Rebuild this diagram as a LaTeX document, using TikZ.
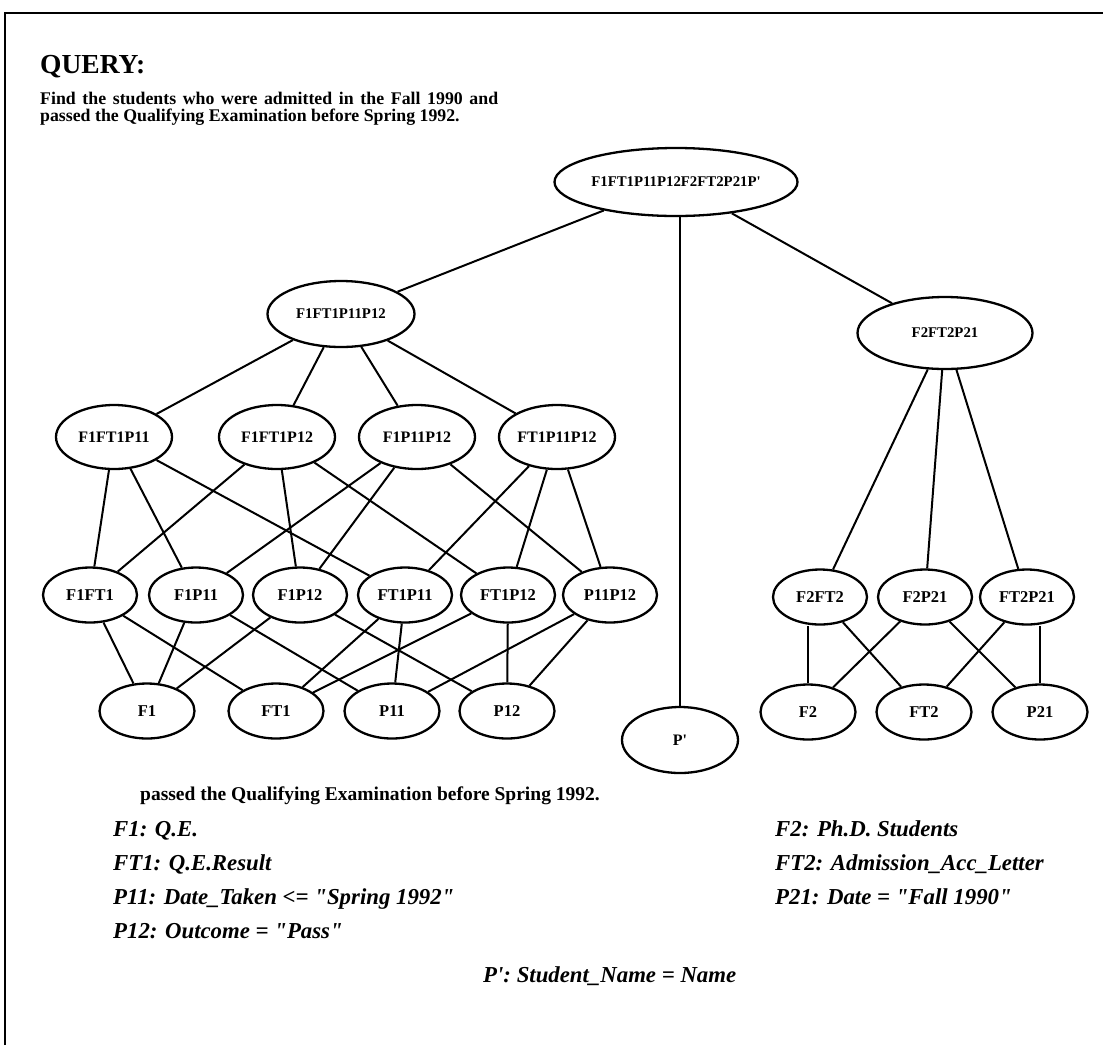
\documentclass[tikz,border=0pt]{standalone}
\usepackage{fontspec}
% plain family without TeX input ligatures, so " and ' print straight
\newfontfamily\serif{Liberation Serif}
\usetikzlibrary{shapes.geometric}
\newcommand{\fs}[1]{\fontsize{#1}{#1}\selectfont}
\begin{document}
\begin{tikzpicture}[x=1pt,y=-1pt,
  lat/.style={ellipse, draw, line width=2.3pt, inner sep=0pt},
  topn/.style={lat, font=\serif\bfseries\fs{14.8}},
  midn/.style={lat, minimum width=116pt, minimum height=64pt, font=\serif\bfseries\fs{16}},
  pairn/.style={lat, minimum width=94pt, minimum height=55pt, font=\serif\bfseries\fs{16.5}},
  leafn/.style={lat, minimum width=95pt, minimum height=55pt, font=\serif\bfseries\fs{16.5}},
  link/.style={line width=2pt},
  body/.style={anchor=base west, inner sep=0pt, font=\serif\bfseries\fs{17.8}},
  legend/.style={anchor=base west, inner sep=0pt, font=\serif\bfseries\itshape\fs{22.8}}]
\useasboundingbox (0,0) rectangle (1103,1045);
% frame
\draw[line width=2.8pt] (5,1045) -- (5,13) -- (1103,13);

% query text
\node[body, font=\serif\bfseries\fs{27.5}] (qh) at (40,73) {QUERY:};
\node[body] (q1) at (40,104) {\makebox[458pt][s]{Find the students who were admitted in the Fall 1990 and}};
\node[body] (q2) at (40,121) {passed the Qualifying Examination before Spring 1992.};

% lattice nodes
\node[topn, minimum width=243pt, minimum height=68pt] (root) at (676,182) {F1FT1P11P12F2FT2P21P'};
\node[topn, minimum width=147pt, minimum height=66pt] (A) at (341,314) {F1FT1P11P12};
\node[topn, minimum width=175pt, minimum height=72pt] (B) at (945,333) {F2FT2P21};
\node[midn, minimum height=66pt] (pp) at (680,740) {P'};

\node[midn] (a1) at (114,437) {F1FT1P11};
\node[midn] (a2) at (277,437) {F1FT1P12};
\node[midn] (a3) at (417,437) {F1P11P12};
\node[midn] (a4) at (557,437) {FT1P11P12};

\node[pairn] (b1) at (90,595) {F1FT1};
\node[pairn] (b2) at (196,595) {F1P11};
\node[pairn] (b3) at (300,595) {F1P12};
\node[pairn] (b4) at (405,595) {FT1P11};
\node[pairn] (b5) at (508,595) {FT1P12};
\node[pairn] (b6) at (610,595) {P11P12};

\node[pairn] (c1) at (820,597) {F2FT2};
\node[pairn] (c2) at (925,597) {F2P21};
\node[pairn] (c3) at (1027,597) {FT2P21};

\node[leafn] (d1) at (147,711) {F1};
\node[leafn] (d2) at (276,711) {FT1};
\node[leafn] (d3) at (392,711) {P11};
\node[leafn] (d4) at (507,711) {P12};

\node[leafn] (e1) at (808,712) {F2};
\node[leafn] (e2) at (924,712) {FT2};
\node[leafn] (e3) at (1040,712) {P21};

% connectors
\draw[link] (root) -- (A);
\draw[link] (root.south -| pp.north) -- (pp.north);
\draw[link] (root) -- (B);

\foreach \t in {a1,a2,a3,a4} \draw[link] (A) -- (\t);
\foreach \t in {c1,c2,c3} \draw[link] (B) -- (\t);

\draw[link] (a1) -- (b1); \draw[link] (a1) -- (b2); \draw[link] (a1) -- (b4);
\draw[link] (a2) -- (b1); \draw[link] (a2) -- (b3); \draw[link] (a2) -- (b5);
\draw[link] (a3) -- (b2); \draw[link] (a3) -- (b3); \draw[link] (a3) -- (b6);
\draw[link] (a4) -- (b4); \draw[link] (a4) -- (b5); \draw[link] (a4) -- (b6);

\draw[link] (b1) -- (d1); \draw[link] (b1) -- (d2);
\draw[link] (b2) -- (d1); \draw[link] (b2) -- (d3);
\draw[link] (b3) -- (d1); \draw[link] (b3) -- (d4);
\draw[link] (b4) -- (d2); \draw[link] (b4) -- (d3);
\draw[link] (b5) -- (d2); \draw[link] (b5) -- (d4);
\draw[link] (b6) -- (d3); \draw[link] (b6) -- (d4);

\draw[link] (e1.north) -- (c1.south -| e1.north); \draw[link] (c1) -- (e2);
\draw[link] (c2) -- (e1); \draw[link] (c2) -- (e3);
\draw[link] (c3) -- (e2); \draw[link] (e3.north) -- (c3.south -| e3.north);

% legend
\node[body, font=\serif\bfseries\fs{19.5}] (lq) at (140,800) {passed the Qualifying Examination before Spring 1992.};
\node[legend] (l1) at (113,836) {F1: Q.E.};
\node[legend] (l2) at (113,870) {FT1: Q.E.Result};
\node[legend] (l3) at (113,904) {P11: Date\_Taken <= "Spring 1992"};
\node[legend] (l4) at (113,938) {P12: Outcome = "Pass"};
\node[legend] (r1) at (775,836) {F2: Ph.D. Students};
\node[legend] (r2) at (775,870) {FT2: Admission\_Acc\_Letter};
\node[legend] (r3) at (775,904) {P21: Date = "Fall 1990"};
\node[legend] (lp) at (483,982) {P': Student\_Name = Name};
\end{tikzpicture}
\end{document}
